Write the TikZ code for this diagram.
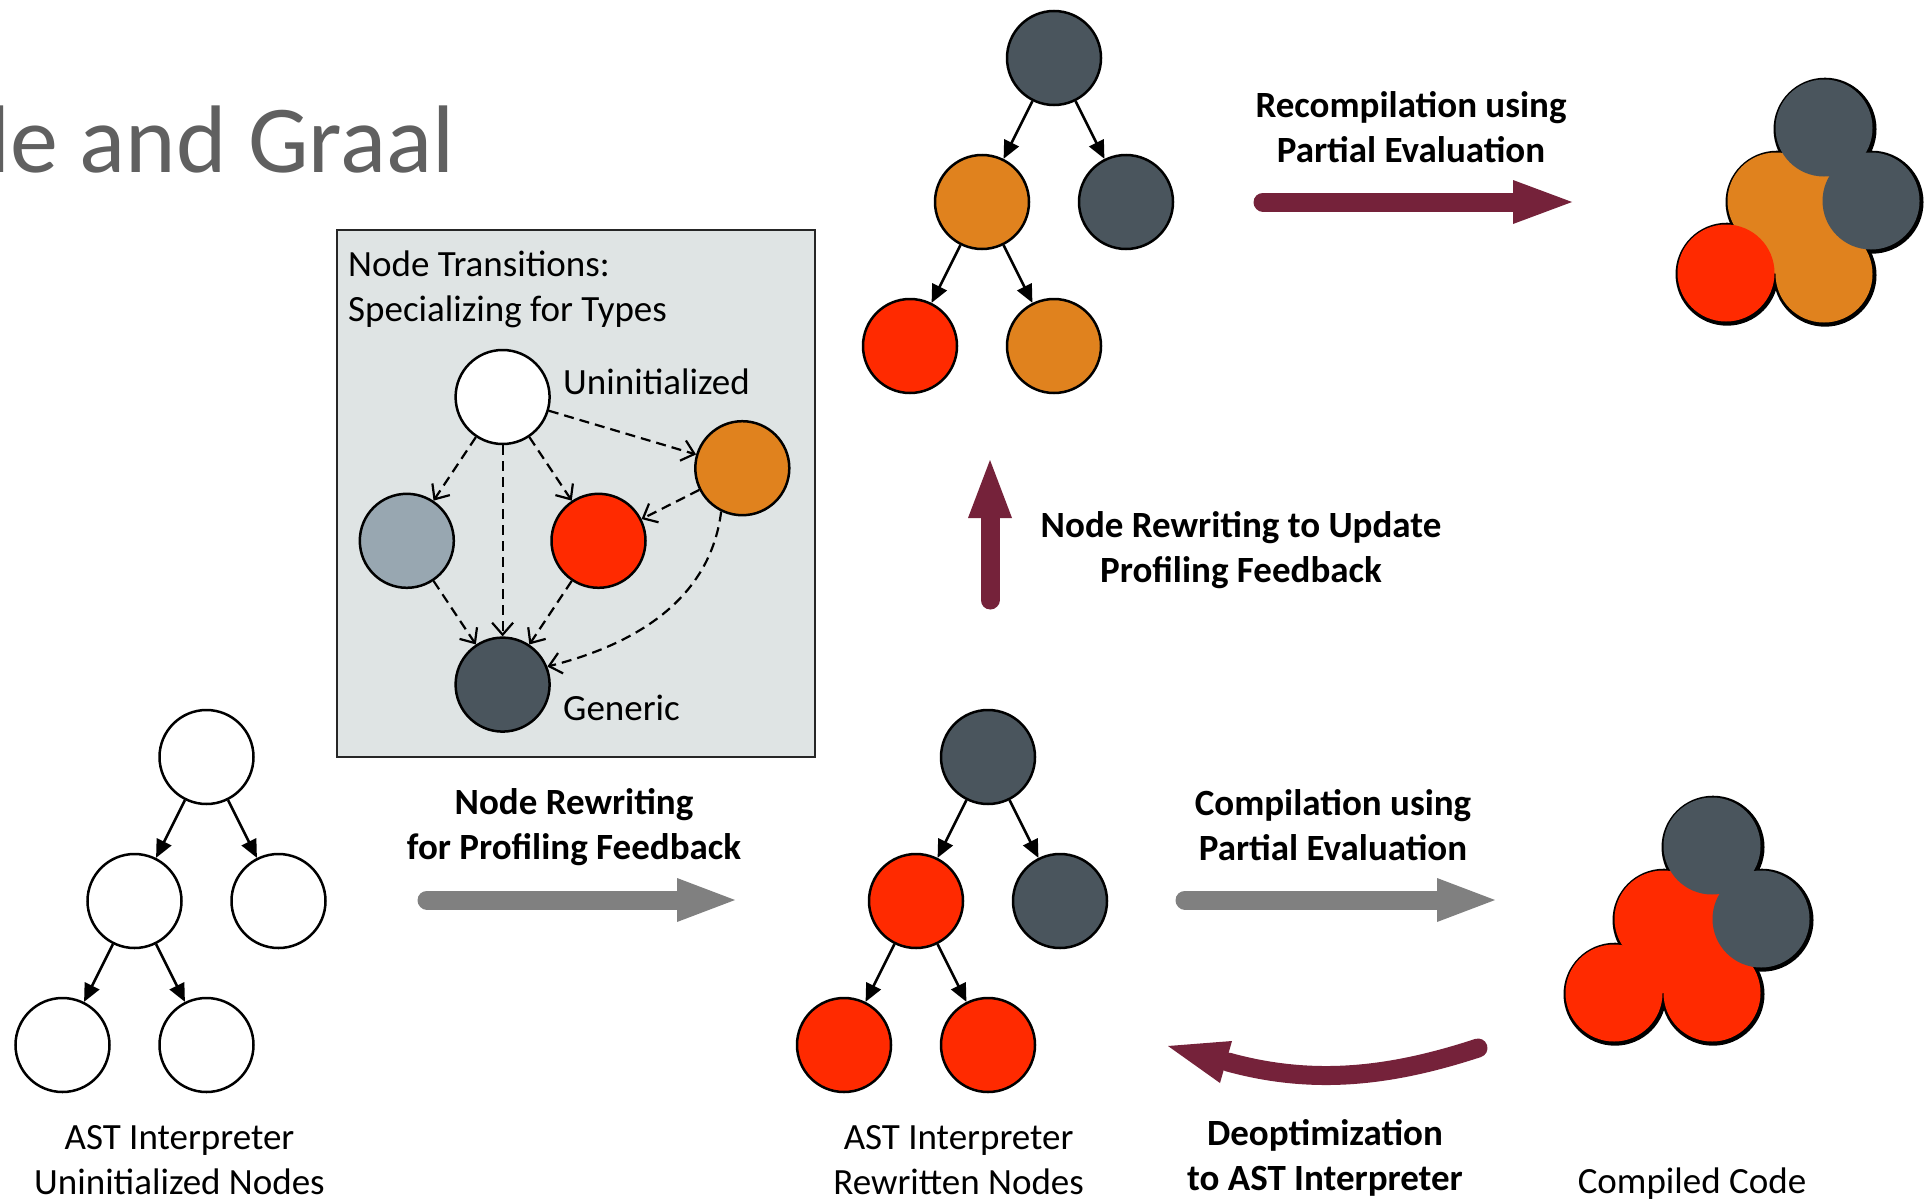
\documentclass[tikz,border=0pt]{standalone}
\usepackage{fontspec}
\setmainfont{Carlito}
\usetikzlibrary{arrows.meta,calc}

\definecolor{slate}{HTML}{4A555D}
\definecolor{amber}{HTML}{E0821E}
\definecolor{scarlet}{HTML}{FF2A00}
\definecolor{steel}{HTML}{98A7B1}
\definecolor{panel}{HTML}{DFE4E4}
\definecolor{wine}{HTML}{75223A}
\definecolor{shaftgray}{HTML}{808080}
\definecolor{titlegray}{HTML}{606060}

\begin{document}
\begin{tikzpicture}[x=1pt,y=-1pt,
  ball/.style={circle,draw=black,line width=2.5pt,minimum size=94pt,inner sep=0pt},
  treearrow/.style={-{Triangle[length=18pt,width=16pt]},line width=2.5pt},
  trans/.style={dash pattern=on 10pt off 6pt,line width=2.2pt,
    -{Straight Barb[length=12pt,width=21pt,line width=2.2pt]}},
  lbl/.style={font=\fontsize{37}{45}\selectfont,align=center,inner sep=0pt},
  blbl/.style={lbl,font=\fontsize{37}{45}\selectfont\bfseries},
  boxtxt/.style={font=\fontsize{37}{45}\selectfont,anchor=base west,inner sep=0pt},
  bigshaft/.style={line width=19pt,line cap=round},
  rim/.style={fill=black},
]
\useasboundingbox (0,0) rectangle (1927,1199);
\clip (0,0) rectangle (1927,1199);
\fill[white] (0,0) rectangle (1927,1199);

% title
\node[anchor=base west,inner sep=0pt,text=titlegray,font=\fontsize{96}{110}\selectfont]
  (title) at (-12,172) {le and Graal};

% ---------- node transition panel ----------
\node[draw=black!85,fill=panel,line width=2.5pt,minimum width=478pt,minimum height=527pt,
  inner sep=0pt,anchor=north west] (panel) at (335.5,228.6) {};
\node[boxtxt] (pt1) at (348,276) {Node Transitions:};
\node[boxtxt] (pt2) at (348,321) {Specializing for Types};

\node[ball,fill=white]   (tu) at (502.6,397) {};
\node[ball,fill=steel]   (tg) at (406.8,540.8) {};
\node[ball,fill=scarlet] (tr) at (598.5,540.8) {};
\node[ball,fill=amber]   (to) at (742.3,468.2) {};
\node[ball,fill=slate]   (tz) at (502.6,684.6) {};
\node[boxtxt] (tul) at (563,394) {Uninitialized};
\node[boxtxt] (tzl) at (563,720) {Generic};

\draw[trans] (tu) -- (tg);
\draw[trans] (tu) -- (tz);
\draw[trans] (tu) -- (tr);
\draw[trans] (tu) -- (to);
\draw[trans] (to) -- (tr);
\draw[trans] (tg) -- (tz);
\draw[trans] (tr) -- (tz);
\draw[trans] (to.-116) .. controls +(-10,80) and +(100,-25) .. (tz.22);

% ---------- uninitialized AST ----------
\node[ball,fill=white] (u0) at (206.5,757) {};
\node[ball,fill=white] (u1) at (134.5,901) {};
\node[ball,fill=white] (u2) at (278.5,901) {};
\node[ball,fill=white] (u3) at (62.5,1045) {};
\node[ball,fill=white] (u4) at (206.5,1045) {};
\draw[treearrow] (u0) -- (u1);
\draw[treearrow] (u0) -- (u2);
\draw[treearrow] (u1) -- (u3);
\draw[treearrow] (u1) -- (u4);
\node[lbl] (ul) at (179.5,1160) {AST Interpreter\\Uninitialized Nodes};

% ---------- rewritten AST ----------
\node[ball,fill=slate]   (r0) at (988,757) {};
\node[ball,fill=scarlet] (r1) at (916,901) {};
\node[ball,fill=slate]   (r2) at (1060,901) {};
\node[ball,fill=scarlet] (r3) at (844,1045) {};
\node[ball,fill=scarlet] (r4) at (988,1045) {};
\draw[treearrow] (r0) -- (r1);
\draw[treearrow] (r0) -- (r2);
\draw[treearrow] (r1) -- (r3);
\draw[treearrow] (r1) -- (r4);
\node[lbl] (rl) at (958.6,1160) {AST Interpreter\\Rewritten Nodes};

% ---------- re-profiled AST ----------
\node[ball,fill=slate]   (p0) at (1054,58) {};
\node[ball,fill=amber]   (p1) at (982,202) {};
\node[ball,fill=slate]   (p2) at (1126,202) {};
\node[ball,fill=scarlet] (p3) at (910,346) {};
\node[ball,fill=amber]   (p4) at (1054,346) {};
\draw[treearrow] (p0) -- (p1);
\draw[treearrow] (p0) -- (p2);
\draw[treearrow] (p1) -- (p3);
\draw[treearrow] (p1) -- (p4);

% ---------- compiled code: merged clusters of nodes ----------
\def\fr{48.5pt}
\def\rr{51.5pt}
% optimized with orange profile
\coordinate (ct0) at (1824,128);
\coordinate (ct1) at (1776,201);
\coordinate (ct2) at (1871,201);
\coordinate (ct3) at (1726,273);
\coordinate (ct4) at (1824,274);
\foreach \p in {ct0,ct1,ct2,ct3,ct4}
  \fill[rim] ($(\p)+(1,1.2)$) circle[radius=\rr];
\fill[amber] (ct1) circle[radius=\fr];
\fill[amber] (ct4) circle[radius=\fr];
\fill[amber] (ct1) -- (ct2) -- (ct4) -- cycle;
\fill[amber] (ct0) -- (ct1) -- (ct2) -- cycle;
\fill[amber] (ct1) -- (ct3) -- (ct4) -- cycle;
\fill[scarlet] (ct3) circle[radius=\fr];
\fill[slate]   (ct0) circle[radius=\fr];
\fill[slate]   (ct2) circle[radius=\fr];

% first compilation
\coordinate (cb0) at (1712,846);
\coordinate (cb1) at (1663,919);
\coordinate (cb2) at (1761,919);
\coordinate (cb3) at (1614,993);
\coordinate (cb4) at (1712,993);
\foreach \p in {cb0,cb1,cb2,cb3,cb4}
  \fill[rim] ($(\p)+(1,1.2)$) circle[radius=\rr];
\fill[scarlet] (cb1) circle[radius=\fr];
\fill[scarlet] (cb3) circle[radius=\fr];
\fill[scarlet] (cb4) circle[radius=\fr];
\fill[scarlet] (cb1) -- (cb2) -- (cb4) -- cycle;
\fill[scarlet] (cb0) -- (cb1) -- (cb2) -- cycle;
\fill[scarlet] (cb1) -- (cb3) -- (cb4) -- cycle;
\fill[slate]   (cb0) circle[radius=\fr];
\fill[slate]   (cb2) circle[radius=\fr];
\node[lbl] (cl) at (1692,1183.5) {Compiled Code};

% ---------- big arrows ----------
% node rewriting for profiling feedback
\coordinate (a1s) at (427,900); \coordinate (a1b) at (677,900); \coordinate (a1t) at (735,900);
\draw[bigshaft,shaftgray] (a1s) -- (a1b);
\fill[shaftgray] (a1t) -- ($(a1b)+(0,-22)$) -- ($(a1b)+(0,22)$) -- cycle;
\node[blbl] (a1l) at (574,827.5) {Node Rewriting\\for Profiling Feedback};

% compilation
\coordinate (a2s) at (1185,900); \coordinate (a2b) at (1437,900); \coordinate (a2t) at (1495,900);
\draw[bigshaft,shaftgray] (a2s) -- (a2b);
\fill[shaftgray] (a2t) -- ($(a2b)+(0,-22)$) -- ($(a2b)+(0,22)$) -- cycle;
\node[blbl] (a2l) at (1333,825) {Compilation using\\Partial Evaluation};

% recompilation
\coordinate (a3s) at (1263,202); \coordinate (a3b) at (1513,202); \coordinate (a3t) at (1572,202);
\draw[bigshaft,wine] (a3s) -- (a3b);
\fill[wine] (a3t) -- ($(a3b)+(0,-22)$) -- ($(a3b)+(0,22)$) -- cycle;
\node[blbl] (a3l) at (1411,127) {Recompilation using\\Partial Evaluation};

% node rewriting to update profiling feedback
\coordinate (a4s) at (990,600); \coordinate (a4b) at (990,518); \coordinate (a4t) at (990,460);
\draw[bigshaft,wine] (a4s) -- (a4b);
\fill[wine] (a4t) -- ($(a4b)+(-22,0)$) -- ($(a4b)+(22,0)$) -- cycle;
\node[blbl] (a4l) at (1241,550.5) {Node Rewriting to Update\\Profiling Feedback};

% deoptimization
\coordinate (a5s) at (1478,1048); \coordinate (a5b) at (1228,1062); \coordinate (a5t) at (1168,1046);
\draw[bigshaft,wine] (a5s) .. controls (1392.5,1076) and (1314.8,1086) .. (a5b);
\fill[wine] (a5t) -- (1232,1041) -- (1220,1083) -- cycle;
\node[blbl] (a5l) at (1325,1157.5) {Deoptimization\\to AST Interpreter};
\end{tikzpicture}
\end{document}
